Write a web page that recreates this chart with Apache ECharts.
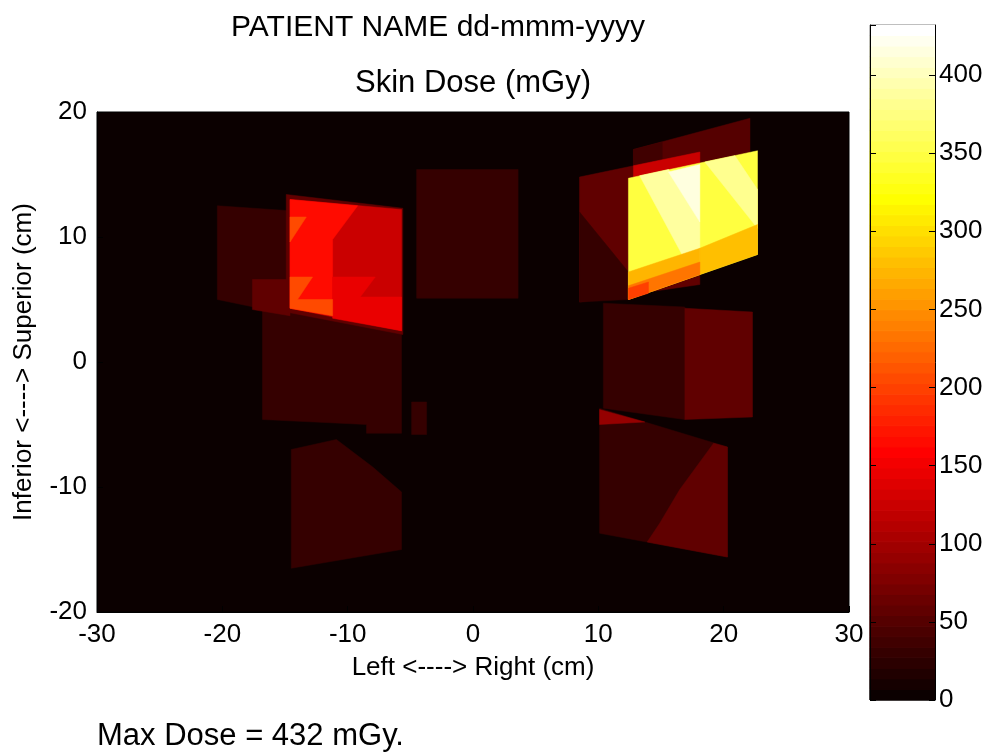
<!DOCTYPE html>
<html>
<head>
<meta charset="utf-8">
<script src="https://cdn.jsdelivr.net/npm/echarts@6/dist/echarts.min.js"></script>
<style>
html,body{margin:0;padding:0;background:#fff;}
#chart{width:988px;height:754px;}
</style>
</head>
<body>
<div id="chart"></div>
<script>
// ---- data ----
const doseMax = 432;
const xTicks = [-30, -20, -10, 0, 10, 20, 30];
const yTicks = [-20, -10, 0, 10, 20];
const cbTicks = [0, 50, 100, 150, 200, 250, 300, 350, 400];

// Skin-dose patches (cm), drawn in order; later patches lie on top
const patchVerts = [
  [[-16.8,5.0],[-5.7,3.5],[-5.7,-5.7],[-8.5,-5.7],[-8.5,-5.0],[-16.8,-4.6]],
  [[-14.5,-7.0],[-10.9,-6.2],[-8.0,-8.4],[-5.7,-10.4],[-5.7,-15.0],[-14.5,-16.5]],
  [[-4.9,-3.2],[-3.7,-3.2],[-3.7,-5.8],[-4.9,-5.8]],
  [[-4.5,15.4],[3.6,15.4],[3.6,5.1],[-4.5,5.1]],
  [[-20.4,12.5],[-14.6,12.1],[-14.6,3.8],[-20.4,5.0]],
  [[-17.6,6.6],[-14.6,6.6],[-14.6,3.7],[-17.6,4.2]],
  [[-14.9,13.4],[-5.6,12.3],[-5.6,2.2],[-14.9,4.0]],
  [[-14.6,13.0],[-5.7,12.2],[-5.7,2.5],[-14.6,4.3]],
  [[-14.6,13.0],[-9.2,12.5],[-11.2,9.8],[-11.2,3.7],[-14.6,4.3]],
  [[-11.2,6.8],[-7.8,6.8],[-9.0,5.2],[-5.7,5.2],[-5.7,2.5],[-11.2,3.5]],
  [[-14.6,11.6],[-13.3,11.6],[-14.6,9.6]],
  [[-14.6,6.8],[-12.8,6.8],[-14.0,5.0],[-11.2,5.0],[-11.2,3.7],[-14.6,4.3]],
  [[12.8,17.0],[22.1,19.5],[22.1,10.6],[12.8,8.0]],
  [[12.8,17.0],[15.1,17.6],[15.1,15.9],[12.8,15.7]],
  [[8.5,14.8],[18.1,16.8],[18.1,6.2],[8.5,4.8]],
  [[8.5,12.0],[12.4,7.2],[12.4,5.0],[8.5,4.8]],
  [[12.8,15.7],[18.1,16.8],[18.1,13.0],[12.8,13.0]],
  [[12.4,14.7],[22.7,16.9],[22.7,8.6],[12.4,5.0]],
  [[13.3,14.9],[15.6,15.4],[18.1,11.2],[18.1,8.0],[17.0,8.0]],
  [[15.6,15.2],[18.1,15.8],[18.1,11.2]],
  [[18.5,16.0],[20.9,16.5],[22.7,13.8],[22.7,10.7]],
  [[18.1,9.1],[22.7,11.0],[22.7,8.6],[18.1,7.0]],
  [[12.4,7.2],[18.1,9.1],[18.1,7.0],[12.4,5.0]],
  [[12.4,6.1],[18.1,8.0],[18.1,7.0],[12.4,5.0]],
  [[12.4,5.9],[14.0,6.4],[14.0,5.5],[12.4,5.0]],
  [[10.4,4.7],[16.9,4.4],[16.9,-4.6],[10.4,-3.7]],
  [[16.9,4.3],[22.3,4.0],[22.3,-4.4],[16.9,-4.6]],
  [[10.1,-3.7],[20.3,-6.8],[20.3,-15.6],[10.1,-13.7]],
  [[19.2,-6.5],[20.3,-6.8],[20.3,-15.6],[13.9,-14.4],[14.9,-12.9],[16.5,-10.2]],
  [[10.1,-3.8],[13.7,-4.8],[10.1,-5.0]]
];
const patchDose = [28, 28, 28, 28, 28, 57, 57, 125, 165, 145, 205, 205,
  52, 35, 55, 30, 122,
  350, 385, 418, 378, 280, 270, 232, 200,
  28, 57, 28, 57, 90];

// ---- MATLAB "hot" colormap, 64 levels ----
const nLevels = 64;
function hotRGB(i) {
  const k = i + 1;
  const r = Math.min(1, k / 24);
  const g = k <= 24 ? 0 : Math.min(1, (k - 24) / 24);
  const b = k <= 48 ? 0 : (k - 48) / 16;
  return 'rgb(' + Math.round(r * 255) + ',' + Math.round(g * 255) + ',' + Math.round(b * 255) + ')';
}
function hotColor(d) {
  let i = Math.floor(d / doseMax * nLevels);
  i = Math.max(0, Math.min(nLevels - 1, i));
  return hotRGB(i);
}
const cbLevels = [];
for (let i = 0; i < nLevels; i++) cbLevels.push([i]);

const FONT = '"Liberation Sans", Arial, Helvetica, sans-serif';
const chart = echarts.init(document.getElementById('chart'), null, {renderer: 'canvas'});

const option = {
  animation: false,
  backgroundColor: '#ffffff',
  title: [
    {text: 'PATIENT NAME dd-mmm-yyyy', left: 433, top: 8, textAlign: 'center',
     textStyle: {fontFamily: FONT, fontSize: 30, fontWeight: 'normal', color: '#000'}},
    {text: 'Skin Dose (mGy)', left: 468, top: 63, textAlign: 'center',
     textStyle: {fontFamily: FONT, fontSize: 31, fontWeight: 'normal', color: '#000'}}
  ],
  grid: [
    {left: 97, right: 139, top: 112, bottom: 142, show: true,
     backgroundColor: hotColor(0), borderColor: '#000', borderWidth: 1},
    {left: 870, right: 53, top: 25, bottom: 54, show: true,
     backgroundColor: 'transparent', borderColor: '#000', borderWidth: 1}
  ],
  xAxis: [
    {gridIndex: 0, type: 'value', min: xTicks[0], max: xTicks[xTicks.length - 1], interval: 10,
     name: 'Left <----> Right (cm)', nameLocation: 'middle', nameGap: 43,
     nameTextStyle: {fontFamily: FONT, fontSize: 26, color: '#000'},
     axisLine: {show: true, onZero: false, lineStyle: {color: '#000'}},
     axisTick: {show: true, inside: true, length: 6, lineStyle: {color: '#000'}},
     axisLabel: {fontFamily: FONT, fontSize: 26, color: '#000', margin: 10},
     splitLine: {show: false}},
    {gridIndex: 1, type: 'value', min: 0, max: 1, show: false}
  ],
  yAxis: [
    {gridIndex: 0, type: 'value', min: yTicks[0], max: yTicks[yTicks.length - 1], interval: 10,
     name: 'Inferior <----> Superior (cm)', nameLocation: 'middle', nameGap: 60, nameRotate: 90,
     nameTextStyle: {fontFamily: FONT, fontSize: 26, color: '#000'},
     axisLine: {show: true, onZero: false, lineStyle: {color: '#000'}},
     axisTick: {show: true, inside: true, length: 6, lineStyle: {color: '#000'}},
     axisLabel: {fontFamily: FONT, fontSize: 26, color: '#000', margin: 10},
     splitLine: {show: false}},
    {gridIndex: 1, type: 'value', min: 0, max: doseMax, interval: 50, position: 'left', z: 10,
     axisLine: {show: true, lineStyle: {color: '#000'}},
     axisTick: {show: true, inside: true, length: 6, lineStyle: {color: '#000'}},
     axisLabel: {show: false}, splitLine: {show: false}},
    {gridIndex: 1, type: 'value', min: 0, max: doseMax, interval: 50, position: 'right', z: 10,
     axisLine: {show: true, lineStyle: {color: '#000'}},
     axisTick: {show: true, inside: true, length: 6, lineStyle: {color: '#000'}},
     axisLabel: {fontFamily: FONT, fontSize: 26, color: '#000', margin: 4, showMaxLabel: false,
       formatter: function (v) { return cbTicks.indexOf(v) >= 0 ? String(v) : ''; }},
     splitLine: {show: false}}
  ],
  graphic: [
    {type: 'text', left: 97, top: 721,
     style: {text: 'Max Dose = 432 mGy.', fontFamily: FONT, fontSize: 31, fill: '#000'}}
  ],
  series: [
    {type: 'custom', xAxisIndex: 0, yAxisIndex: 0, silent: true, clip: true,
     data: patchDose.map(function (d, i) { return [0, 0, i]; }),
     renderItem: function (params, api) {
       const i = params.dataIndex;
       const pts = patchVerts[i].map(function (p) { return api.coord(p); });
       return {type: 'polygon', shape: {points: pts},
               style: {fill: hotColor(patchDose[i]), stroke: hotColor(patchDose[i]), lineWidth: 0.5}};
     }},
    {type: 'custom', xAxisIndex: 1, yAxisIndex: 1, silent: true, z: 1,
     data: cbLevels,
     renderItem: function (params, api) {
       const i = params.dataIndex;
       const lo = doseMax * i / nLevels, hi = doseMax * (i + 1) / nLevels;
       const p0 = api.coord([0, hi]);
       const p1 = api.coord([1, lo]);
       return {type: 'rect', shape: {x: p0[0], y: p0[1], width: p1[0] - p0[0], height: p1[1] - p0[1]},
               style: {fill: hotRGB(i), stroke: hotRGB(i), lineWidth: 1}};
     }}
  ]
};
chart.setOption(option);
</script>
</body>
</html>
